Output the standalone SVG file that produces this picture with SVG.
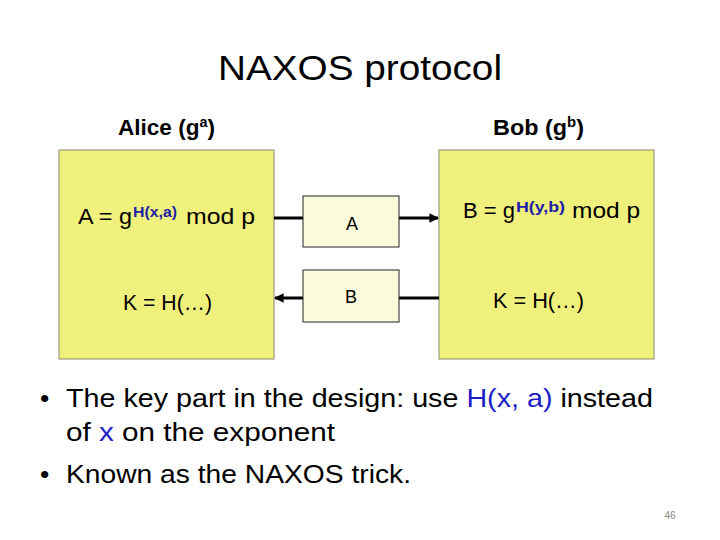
<svg xmlns="http://www.w3.org/2000/svg" width="720" height="540" viewBox="0 0 720 540">
<style>
text{font-family:"Liberation Sans",Arial,sans-serif;fill:#000}
.party{fill:#F0F07D;stroke:#8A8A70;stroke-width:1}
.msg{fill:#FCFCDC;stroke:#222;stroke-width:1}
.f{font-size:22px}
.sup{font-size:14px;fill:#2020A8;font-weight:bold}
.lbl{font-size:22px;font-weight:bold}
.m{font-size:18px}
.b{font-size:26.5px}
.blue{fill:#1E1EC8}
.conn{stroke:#000;stroke-width:3;fill:none}
</style>
<defs>
<marker id="ah" viewBox="0 0 10 10" refX="9" refY="5" markerWidth="3.2" markerHeight="3.2" orient="auto-start-reverse" markerUnits="strokeWidth">
<path d="M0,0 L10,5 L0,10 z" fill="#000"/>
</marker>
</defs>
<rect width="720" height="540" fill="#fff"/>
<text x="218" y="80" font-size="35" textLength="284" lengthAdjust="spacingAndGlyphs">NAXOS protocol</text>

<g id="alice">
<text class="lbl" x="118" y="135" textLength="97" lengthAdjust="spacingAndGlyphs">Alice (g<tspan font-size="14" dy="-8">a</tspan><tspan dy="8">)</tspan></text>
<rect class="party" x="59" y="150" width="215" height="209"/>
<text class="f" x="78" y="224" textLength="54" lengthAdjust="spacingAndGlyphs">A = g</text>
<text class="sup" x="133" y="217" textLength="44" lengthAdjust="spacingAndGlyphs">H(x,a)</text>
<text class="f" x="186" y="224" textLength="69" lengthAdjust="spacingAndGlyphs">mod p</text>
<text class="f" x="123" y="310" textLength="89" lengthAdjust="spacingAndGlyphs">K = H(…)</text>
</g>

<g id="bob">
<text class="lbl" x="493" y="135" textLength="91" lengthAdjust="spacingAndGlyphs">Bob (g<tspan font-size="14" dy="-8">b</tspan><tspan dy="8">)</tspan></text>
<rect class="party" x="439" y="150" width="215" height="209"/>
<text class="f" x="463" y="218" textLength="52" lengthAdjust="spacingAndGlyphs">B = g</text>
<text class="sup" x="516" y="212" textLength="49" lengthAdjust="spacingAndGlyphs">H(y,b)</text>
<text class="f" x="572" y="218" textLength="68" lengthAdjust="spacingAndGlyphs">mod p</text>
<text class="f" x="493" y="308" textLength="91" lengthAdjust="spacingAndGlyphs">K = H(…)</text>
</g>

<g id="connectors">
<line class="conn" x1="274" y1="218" x2="303" y2="218"/>
<line class="conn" x1="399" y1="218" x2="438" y2="218" marker-end="url(#ah)"/>
<line class="conn" x1="439" y1="298" x2="399" y2="298"/>
<line class="conn" x1="303" y1="298" x2="275" y2="298" marker-end="url(#ah)"/>
</g>

<g id="msgA">
<rect class="msg" x="303" y="196" width="96" height="51"/>
<text class="m" x="352" y="230" text-anchor="middle">A</text>
</g>
<g id="msgB">
<rect class="msg" x="303" y="270" width="96" height="52"/>
<text class="m" x="351" y="303" text-anchor="middle">B</text>
</g>

<g id="bullets">
<text class="b" x="40" y="407">•</text>
<text class="b" x="66" y="407" textLength="587" lengthAdjust="spacingAndGlyphs">The key part in the design: use <tspan class="blue">H(x, a)</tspan> instead</text>
<text class="b" x="66" y="441" textLength="269" lengthAdjust="spacingAndGlyphs">of <tspan class="blue">x</tspan> on the exponent</text>
<text class="b" x="40" y="483">•</text>
<text class="b" x="66" y="483" textLength="345" lengthAdjust="spacingAndGlyphs">Known as the NAXOS trick.</text>
</g>
<text x="670" y="519" font-size="10" text-anchor="middle" style="fill:#888">46</text>
</svg>
